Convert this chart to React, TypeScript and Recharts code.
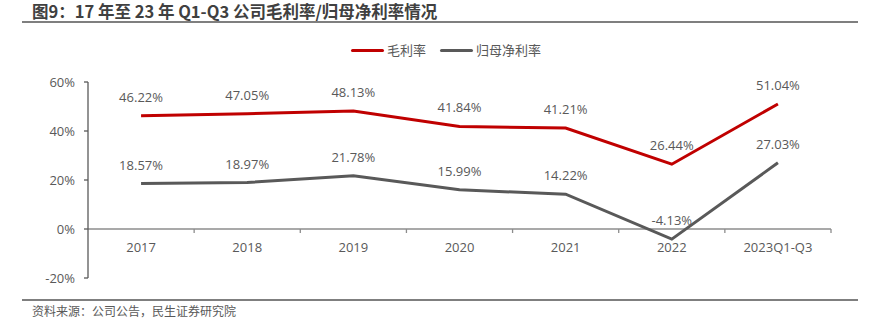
import React from 'react'
import { LineChart, Line, XAxis, YAxis, ReferenceLine, LabelList } from 'recharts'

const categories = ['2017', '2018', '2019', '2020', '2021', '2022', '2023Q1-Q3']
const grossMargin = [46.22, 47.05, 48.13, 41.84, 41.21, 26.44, 51.04]
const netMargin = [18.57, 18.97, 21.78, 15.99, 14.22, -4.13, 27.03]
const yTicks = [-20, 0, 20, 40, 60]

const data = categories.map((name, i) => ({
  name,
  gross: grossMargin[i],
  net: netMargin[i],
}))

const W = 876
const H = 332
const PLOT_LEFT = 88
const PLOT_RIGHT = 831
const PLOT_TOP = 82
const PLOT_BOTTOM = 278
const Y_MIN = -20
const Y_MAX = 60
const ZERO_Y = PLOT_TOP + ((Y_MAX - 0) / (Y_MAX - Y_MIN)) * (PLOT_BOTTOM - PLOT_TOP)
const BAND = (PLOT_RIGHT - PLOT_LEFT) / categories.length

const FONT = '"Open Sans", "Noto Sans CJK SC", sans-serif'
const TEXT = '#595959'
const RED = '#C00000'
const GREY = '#595959'

function XTick(props: any) {
  const { x, payload } = props
  const bx = x + BAND / 2
  return (
    <g>
      <line x1={bx} x2={bx} y1={ZERO_Y} y2={ZERO_Y + 4} stroke="#8c8c8c" strokeWidth={1.3} />
      <text x={x} y={ZERO_Y + 18} textAnchor="middle" dominantBaseline="central" fill={TEXT} fontSize={13} fontFamily={FONT}>
        {payload.value}
      </text>
    </g>
  )
}

function LegendBox() {
  const items = [
    { label: '毛利率', color: RED },
    { label: '归母净利率', color: GREY },
  ]
  return (
    <div style={{ position: 'absolute', left: 8, top: 41, width: W, display: 'flex', justifyContent: 'center', gap: 14, fontFamily: FONT, fontSize: 13, color: TEXT, lineHeight: '18px' }}>
      {items.map((it) => (
        <div key={it.label} style={{ display: 'flex', alignItems: 'center' }}>
          <span style={{ display: 'inline-block', width: 33, height: 3, background: it.color, borderRadius: 2, marginRight: 3 }} />
          <span>{it.label}</span>
        </div>
      ))}
    </div>
  )
}

export default function App() {
  return (
    <div style={{ position: 'absolute', left: 0, top: 0, width: W, height: H, background: '#fff', fontFamily: FONT }}>
      <div style={{ position: 'absolute', left: 32, top: 1, fontSize: 16.5, fontWeight: 700, color: '#404040', fontFamily: '"Noto Sans CJK SC", sans-serif', lineHeight: '20px', whiteSpace: 'nowrap' }}>
        图9：17 年至 23 年 Q1-Q3 公司毛利率/归母净利率情况
      </div>
      <div style={{ position: 'absolute', left: 22, top: 21, width: 836, height: 2, background: '#7f7f7f' }} />
      <LegendBox />
      <div style={{ position: 'absolute', left: 0, top: 0 }}>
        <LineChart
          width={W}
          height={H}
          data={data}
          margin={{ top: PLOT_TOP, right: W - PLOT_RIGHT, left: PLOT_LEFT - 60, bottom: H - PLOT_BOTTOM - 1 }}
        >
          <XAxis dataKey="name" scale="band" height={1} axisLine={false} tickLine={false} tick={<XTick />} interval={0} />
          <YAxis
            width={60}
            domain={[Y_MIN, Y_MAX]}
            ticks={yTicks}
            interval={0}
            tickFormatter={(v: number) => `${v}%`}
            axisLine={{ stroke: GREY, strokeWidth: 1.3 }}
            tickLine={{ stroke: GREY, strokeWidth: 1.3 }}
            tickSize={4}
            tickMargin={9}
            tick={{ fill: TEXT, fontSize: 13, fontFamily: FONT }}
          />
          <ReferenceLine y={0} stroke="#8c8c8c" strokeWidth={1.3} />
          <Line type="linear" dataKey="gross" stroke={RED} strokeWidth={3} dot={false} isAnimationActive={false}>
            <LabelList dataKey="gross" position="top" offset={14} formatter={(v: any) => `${Number(v).toFixed(2)}%`} fill={TEXT} fontSize={13} fontFamily={FONT} />
          </Line>
          <Line type="linear" dataKey="net" stroke={GREY} strokeWidth={3} dot={false} isAnimationActive={false}>
            <LabelList dataKey="net" position="top" offset={14} formatter={(v: any) => `${Number(v).toFixed(2)}%`} fill={TEXT} fontSize={13} fontFamily={FONT} />
          </Line>
        </LineChart>
      </div>
      <div style={{ position: 'absolute', left: 22, top: 299, width: 836, height: 2, background: '#7f7f7f' }} />
      <div style={{ position: 'absolute', left: 32, top: 303, fontSize: 12, color: TEXT, fontFamily: '"Noto Sans CJK SC", sans-serif', lineHeight: '16px', whiteSpace: 'nowrap' }}>
        资料来源：公司公告，民生证券研究院
      </div>
    </div>
  )
}
